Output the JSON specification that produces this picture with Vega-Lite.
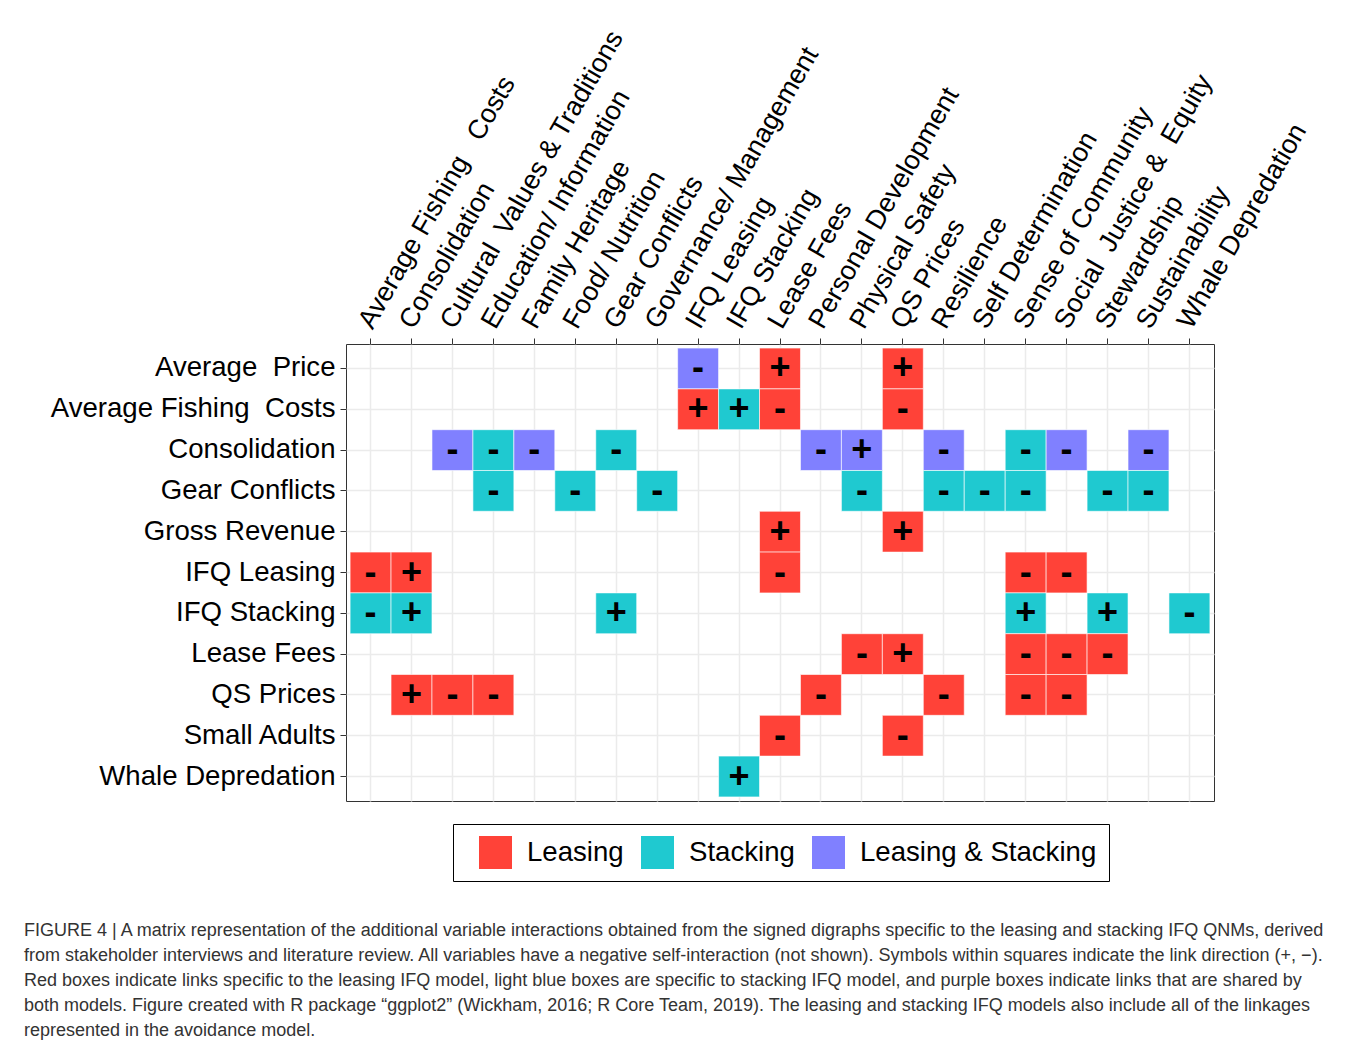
{
  "$schema": "https://vega.github.io/schema/vega-lite/v6.json",
  "width": 868,
  "height": 457,
  "autosize": {"type": "none"},
  "padding": {"left": 346, "top": 344, "right": 143, "bottom": 246},
  "background": "white",
  "config": {
    "font": "Liberation Sans",
    "view": {"stroke": "#333333", "strokeWidth": 1}
  },
  "title": {
    "text": [
      "FIGURE 4 | A matrix representation of the additional variable interactions obtained from the signed digraphs specific to the leasing and stacking IFQ QNMs, derived",
      "from stakeholder interviews and literature review. All variables have a negative self-interaction (not shown). Symbols within squares indicate the link direction (+, −).",
      "Red boxes indicate links specific to the leasing IFQ model, light blue boxes are specific to stacking IFQ model, and purple boxes indicate links that are shared by",
      "both models. Figure created with R package “ggplot2” (Wickham, 2016; R Core Team, 2019). The leasing and stacking IFQ models also include all of the linkages",
      "represented in the avoidance model."
    ],
    "orient": "bottom",
    "anchor": "start",
    "frame": "group",
    "offset": 40,
    "dx": -322,
    "fontSize": 18,
    "fontWeight": "normal",
    "font": "Liberation Sans",
    "color": "#333333",
    "lineHeight": 25
  },
  "data": {
    "values": [
      {"row": "Average\u00a0 Price", "col": "IFQ Leasing", "type": "Leasing & Stacking", "sign": "-"},
      {"row": "Average\u00a0 Price", "col": "Lease Fees", "type": "Leasing", "sign": "+"},
      {"row": "Average\u00a0 Price", "col": "QS Prices", "type": "Leasing", "sign": "+"},
      {"row": "Average Fishing\u00a0 Costs", "col": "IFQ Leasing", "type": "Leasing", "sign": "+"},
      {"row": "Average Fishing\u00a0 Costs", "col": "IFQ Stacking", "type": "Stacking", "sign": "+"},
      {"row": "Average Fishing\u00a0 Costs", "col": "Lease Fees", "type": "Leasing", "sign": "-"},
      {"row": "Average Fishing\u00a0 Costs", "col": "QS Prices", "type": "Leasing", "sign": "-"},
      {"row": "Consolidation", "col": "Cultural\u00a0 Values & Traditions", "type": "Leasing & Stacking", "sign": "-"},
      {"row": "Consolidation", "col": "Education/ Information", "type": "Stacking", "sign": "-"},
      {"row": "Consolidation", "col": "Family Heritage", "type": "Leasing & Stacking", "sign": "-"},
      {"row": "Consolidation", "col": "Gear Conflicts", "type": "Stacking", "sign": "-"},
      {"row": "Consolidation", "col": "Personal Development", "type": "Leasing & Stacking", "sign": "-"},
      {"row": "Consolidation", "col": "Physical Safety", "type": "Leasing & Stacking", "sign": "+"},
      {"row": "Consolidation", "col": "Resilience", "type": "Leasing & Stacking", "sign": "-"},
      {"row": "Consolidation", "col": "Sense of Community", "type": "Stacking", "sign": "-"},
      {"row": "Consolidation", "col": "Social\u00a0 Justice &\u00a0 Equity", "type": "Leasing & Stacking", "sign": "-"},
      {"row": "Consolidation", "col": "Sustainability", "type": "Leasing & Stacking", "sign": "-"},
      {"row": "Gear Conflicts", "col": "Education/ Information", "type": "Stacking", "sign": "-"},
      {"row": "Gear Conflicts", "col": "Food/ Nutrition", "type": "Stacking", "sign": "-"},
      {"row": "Gear Conflicts", "col": "Governance/ Management", "type": "Stacking", "sign": "-"},
      {"row": "Gear Conflicts", "col": "Physical Safety", "type": "Stacking", "sign": "-"},
      {"row": "Gear Conflicts", "col": "Resilience", "type": "Stacking", "sign": "-"},
      {"row": "Gear Conflicts", "col": "Self Determination", "type": "Stacking", "sign": "-"},
      {"row": "Gear Conflicts", "col": "Sense of Community", "type": "Stacking", "sign": "-"},
      {"row": "Gear Conflicts", "col": "Stewardship", "type": "Stacking", "sign": "-"},
      {"row": "Gear Conflicts", "col": "Sustainability", "type": "Stacking", "sign": "-"},
      {"row": "Gross Revenue", "col": "Lease Fees", "type": "Leasing", "sign": "+"},
      {"row": "Gross Revenue", "col": "QS Prices", "type": "Leasing", "sign": "+"},
      {"row": "IFQ Leasing", "col": "Average Fishing\u00a0\u00a0 Costs", "type": "Leasing", "sign": "-"},
      {"row": "IFQ Leasing", "col": "Consolidation", "type": "Leasing", "sign": "+"},
      {"row": "IFQ Leasing", "col": "Lease Fees", "type": "Leasing", "sign": "-"},
      {"row": "IFQ Leasing", "col": "Sense of Community", "type": "Leasing", "sign": "-"},
      {"row": "IFQ Leasing", "col": "Social\u00a0 Justice &\u00a0 Equity", "type": "Leasing", "sign": "-"},
      {"row": "IFQ Stacking", "col": "Average Fishing\u00a0\u00a0 Costs", "type": "Stacking", "sign": "-"},
      {"row": "IFQ Stacking", "col": "Consolidation", "type": "Stacking", "sign": "+"},
      {"row": "IFQ Stacking", "col": "Gear Conflicts", "type": "Stacking", "sign": "+"},
      {"row": "IFQ Stacking", "col": "Sense of Community", "type": "Stacking", "sign": "+"},
      {"row": "IFQ Stacking", "col": "Stewardship", "type": "Stacking", "sign": "+"},
      {"row": "IFQ Stacking", "col": "Whale Depredation", "type": "Stacking", "sign": "-"},
      {"row": "Lease Fees", "col": "Physical Safety", "type": "Leasing", "sign": "-"},
      {"row": "Lease Fees", "col": "QS Prices", "type": "Leasing", "sign": "+"},
      {"row": "Lease Fees", "col": "Sense of Community", "type": "Leasing", "sign": "-"},
      {"row": "Lease Fees", "col": "Social\u00a0 Justice &\u00a0 Equity", "type": "Leasing", "sign": "-"},
      {"row": "Lease Fees", "col": "Stewardship", "type": "Leasing", "sign": "-"},
      {"row": "QS Prices", "col": "Consolidation", "type": "Leasing", "sign": "+"},
      {"row": "QS Prices", "col": "Cultural\u00a0 Values & Traditions", "type": "Leasing", "sign": "-"},
      {"row": "QS Prices", "col": "Education/ Information", "type": "Leasing", "sign": "-"},
      {"row": "QS Prices", "col": "Personal Development", "type": "Leasing", "sign": "-"},
      {"row": "QS Prices", "col": "Resilience", "type": "Leasing", "sign": "-"},
      {"row": "QS Prices", "col": "Sense of Community", "type": "Leasing", "sign": "-"},
      {"row": "QS Prices", "col": "Social\u00a0 Justice &\u00a0 Equity", "type": "Leasing", "sign": "-"},
      {"row": "Small Adults", "col": "Lease Fees", "type": "Leasing", "sign": "-"},
      {"row": "Small Adults", "col": "QS Prices", "type": "Leasing", "sign": "-"},
      {"row": "Whale Depredation", "col": "IFQ Stacking", "type": "Stacking", "sign": "+"}
    ]
  },
  "encoding": {
    "x": {
      "field": "col",
      "type": "nominal",
      "scale": {
        "domain": ["Average Fishing\u00a0\u00a0 Costs", "Consolidation", "Cultural\u00a0 Values & Traditions", "Education/ Information", "Family Heritage", "Food/ Nutrition", "Gear Conflicts", "Governance/ Management", "IFQ Leasing", "IFQ Stacking", "Lease Fees", "Personal Development", "Physical Safety", "QS Prices", "Resilience", "Self Determination", "Sense of Community", "Social\u00a0 Justice &\u00a0 Equity", "Stewardship", "Sustainability", "Whale Depredation"],
        "paddingInner": 0,
        "paddingOuter": 0.1
      },
      "axis": {
        "orient": "top",
        "title": null,
        "zindex": 0,
        "labelAngle": -60,
        "labelAlign": "left",
        "labelBaseline": "alphabetic",
        "labelOffset": 2,
        "labelPadding": 8,
        "labelFontSize": 27,
        "labelColor": "black",
        "labelLimit": 1000,
        "labelOverlap": false,
        "tickColor": "#333333",
        "tickSize": 6,
        "domain": false,
        "grid": true,
        "gridColor": "#EBEBEB",
        "gridWidth": 1.5,
        "bandPosition": 0.5
      }
    },
    "y": {
      "field": "row",
      "type": "nominal",
      "scale": {
        "domain": ["Average\u00a0 Price", "Average Fishing\u00a0 Costs", "Consolidation", "Gear Conflicts", "Gross Revenue", "IFQ Leasing", "IFQ Stacking", "Lease Fees", "QS Prices", "Small Adults", "Whale Depredation"],
        "paddingInner": 0,
        "paddingOuter": 0.1
      },
      "axis": {
        "title": null,
        "zindex": 0,
        "labelFontSize": 27.6,
        "labelColor": "black",
        "labelLimit": 1000,
        "labelPadding": 5,
        "tickColor": "#333333",
        "tickSize": 6,
        "domain": false,
        "grid": true,
        "gridColor": "#EBEBEB",
        "gridWidth": 1.5,
        "bandPosition": 0.5
      }
    }
  },
  "layer": [
    {
      "mark": {"type": "rect", "stroke": "white", "strokeWidth": 0.6, "opacity": 1},
      "encoding": {
        "color": {
          "field": "type",
          "type": "nominal",
          "scale": {
            "domain": ["Leasing", "Stacking", "Leasing & Stacking"],
            "range": ["#FF4238", "#1FC9D0", "#8080FF"]
          },
          "legend": {
            "orient": "none",
            "legendX": 107,
            "legendY": 480,
            "direction": "horizontal",
            "title": null,
            "symbolType": "square",
            "symbolSize": 1089,
            "symbolStrokeWidth": 0,
            "symbolOpacity": 1,
            "symbolOffset": 14,
            "labelFontSize": 27.6,
            "labelColor": "black",
            "labelOffset": 15,
            "labelLimit": 1000,
            "columnPadding": 3,
            "strokeColor": "black",
            "fillColor": "white",
            "padding": 12
          }
        }
      }
    },
    {
      "mark": {"type": "text", "fontSize": 36, "fontWeight": "bold", "color": "black", "baseline": "middle", "align": "center"},
      "encoding": {"text": {"field": "sign"}}
    }
  ]
}
